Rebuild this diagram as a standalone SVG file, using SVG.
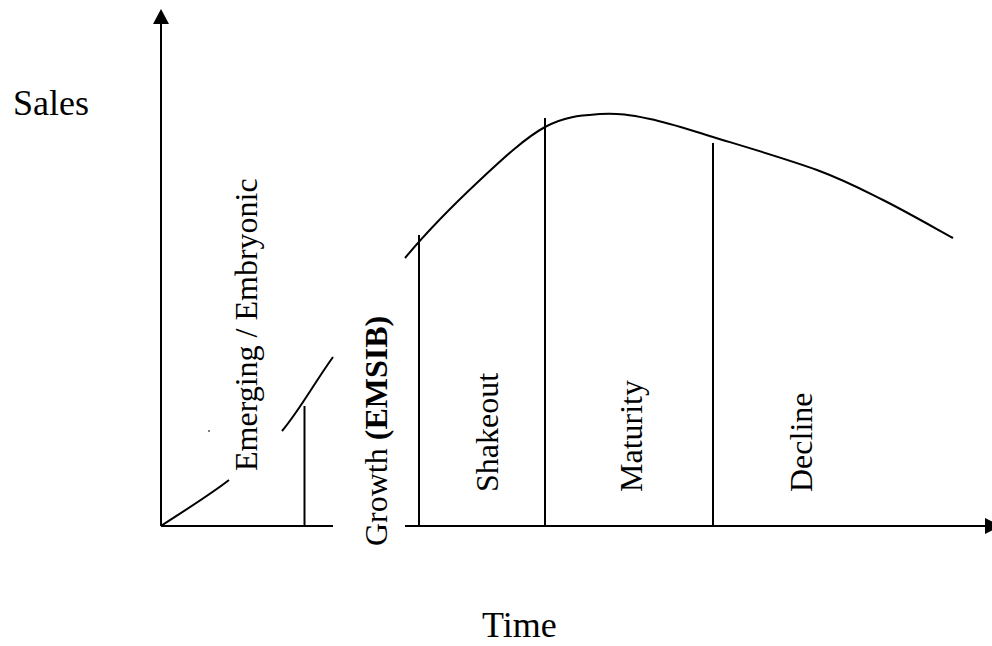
<svg xmlns="http://www.w3.org/2000/svg" width="992" height="646" viewBox="0 0 992 646">
  <style>
    .ln { fill: none; stroke: #000; stroke-width: 2; }
    .lbl { font-family: "Liberation Serif", "Times New Roman", serif; fill: #000; }
    .big { font-size: 36px; }
    .stage { font-size: 32px; }
    .b { font-weight: bold; }
  </style>
  <rect width="992" height="646" fill="#fff"/>

  <!-- axes -->
  <g id="connectors">
    <line class="ln" x1="161" y1="526" x2="161" y2="22"/>
    <polygon points="161,9 153,24 169,24" fill="#000"/>
    <line class="ln" x1="161" y1="526" x2="333" y2="526"/>
    <line class="ln" x1="405" y1="526" x2="987" y2="526"/>
    <polygon points="1001,526 985,518 985,534" fill="#000"/>
  </g>

  <!-- sales curve, interrupted where stage labels sit -->
  <g id="curve">
    <path class="ln" d="M161,526 C172.3,518.3 208.8,495.8 229,480"/>
    <path class="ln" d="M282,431 C299.3,410.5 312.5,385.8 333,357"/>
    <path class="ln" d="M405,258 C429.5,228.5 456.7,201.8 480,180 C503.3,158.2 525,138 545,127 C565,116 582.5,115.3 600,114 C617.5,112.7 631.2,115.2 650,119 C668.8,122.8 685.2,128.5 713,137 C740.8,145.5 788.7,159.5 817,170 C845.3,180.5 860.3,188.7 883,200 C905.7,211.3 941.3,231.7 953,238"/>
    <line x1="209" y1="430" x2="209" y2="432" stroke="#000" stroke-width="1"/>
  </g>

  <!-- stage boundaries -->
  <g id="dividers">
    <line class="ln" x1="304.5" y1="406" x2="304.5" y2="526"/>
    <line class="ln" x1="419" y1="235" x2="419" y2="526"/>
    <line class="ln" x1="545" y1="118" x2="545" y2="526"/>
    <line class="ln" x1="713" y1="143" x2="713" y2="526"/>
  </g>

  <g id="axis-sales">
    <text class="lbl big" x="13" y="115">Sales</text>
  </g>
  <g id="axis-time">
    <text class="lbl big" x="482" y="637">Time</text>
  </g>

  <g id="stage-emerging">
    <text class="lbl stage" transform="translate(257,471) rotate(-90)">Emerging / Embryonic</text>
  </g>
  <g id="stage-growth">
    <text class="lbl stage" transform="translate(387,546) rotate(-90)">Growth <tspan class="b">(EMSIB)</tspan></text>
  </g>
  <g id="stage-shakeout">
    <text class="lbl stage" transform="translate(498,492) rotate(-90)">Shakeout</text>
  </g>
  <g id="stage-maturity">
    <text class="lbl stage" transform="translate(642,492) rotate(-90)">Maturity</text>
  </g>
  <g id="stage-decline">
    <text class="lbl stage" transform="translate(812,492) rotate(-90)">Decline</text>
  </g>
</svg>
